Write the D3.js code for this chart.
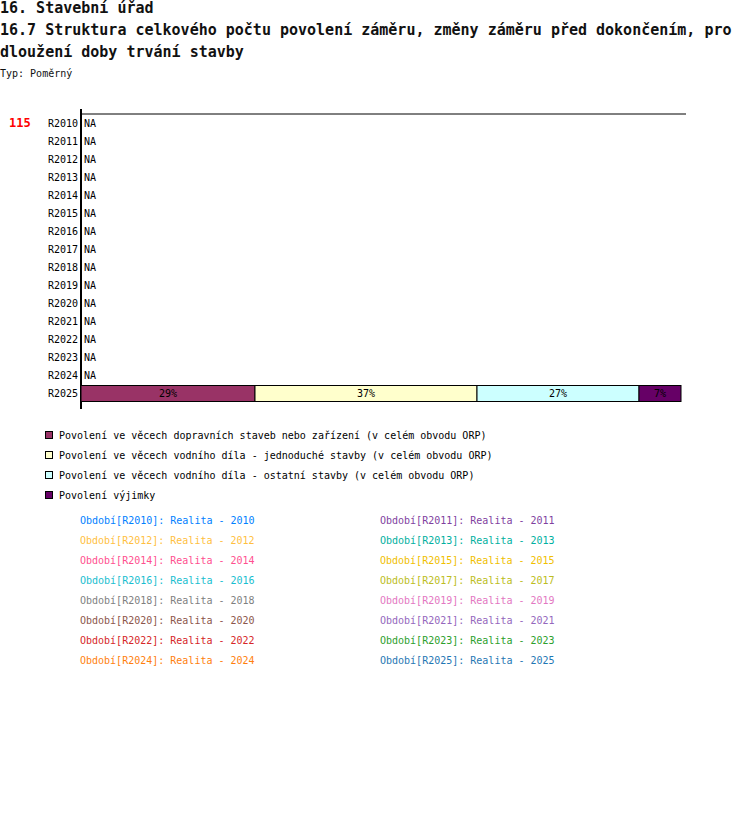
<!DOCTYPE html>
<html>
<head>
<meta charset="utf-8">
<script src="https://cdn.jsdelivr.net/npm/d3@7"></script>
<style>
  body { margin: 0; background: #fff; }
  svg { display: block; font-family: "DejaVu Sans Mono", "Liberation Mono", monospace; }
</style>
</head>
<body>
<svg id="chart"></svg>
<script>
// data
var titleLines = ["16. Stavební úřad",
  "16.7 Struktura celkového počtu povolení záměru, změny záměru před dokončením, pro",
  "dloužení doby trvání stavby"];
var typeLabel = "Typ: Poměrný";
var orpCode = "115";
var periods = ["R2010", "R2011", "R2012", "R2013", "R2014", "R2015", "R2016", "R2017",
  "R2018", "R2019", "R2020", "R2021", "R2022", "R2023", "R2024", "R2025"];
var categories = [
  "Povolení ve věcech dopravních staveb nebo zařízení (v celém obvodu ORP)",
  "Povolení ve věcech vodního díla - jednoduché stavby (v celém obvodu ORP)",
  "Povolení ve věcech vodního díla - ostatní stavby (v celém obvodu ORP)",
  "Povolení výjimky"];
var catColors = ["#993366", "#ffffcc", "#ccffff", "#660066"];
// percent shares per period, missing = NA
var shares = {
  R2025: [29, 37, 27, 7]
};
var periodColors = ["#0080ff", "#7f3f9f", "#ffbf3f", "#00b0a0", "#ff4f8f", "#f0c000",
  "#17becf", "#bcbd22", "#7f7f7f", "#e377c2", "#8c564b", "#9467bd",
  "#d62728", "#2ca02c", "#ff7f0e", "#1f77b4"];

var width = 750, height = 838;
var svg = d3.select("#chart").attr("width", width).attr("height", height);

// titles
svg.selectAll(".title")
  .data(titleLines)
  .join("text")
  .attr("x", 0)
  .attr("y", function (d, i) { return 13 + i * 22 })
  .style("font-size", "15px")
  .style("font-weight", "bold")
  .attr("fill", "#111")
  .text(function (d) { return d });
svg.append("text")
  .attr("x", 0).attr("y", 77)
  .style("font-size", "10px")
  .attr("fill", "#111")
  .text(typeLabel);

// scales
var x = d3.scaleLinear().domain([0, 100]).range([81, 681]);
var y = d3.scaleBand().domain(periods).range([114, 402]).paddingInner(0.05);
var mid = function (p) { return y(p) + y.bandwidth() / 2 };

// frame lines
svg.append("line")
  .attr("x1", 80).attr("x2", 686).attr("y1", 114).attr("y2", 114)
  .attr("stroke", "#000").attr("stroke-width", 1);
svg.append("line")
  .attr("x1", 81).attr("x2", 81).attr("y1", 109).attr("y2", 409)
  .attr("stroke", "#000").attr("stroke-width", 2);

svg.append("text")
  .attr("x", 9).attr("y", mid("R2010") + 4)
  .style("font-size", "12px").style("font-weight", "bold")
  .attr("fill", "#ff0000")
  .text(orpCode);

// row labels
svg.selectAll(".plabel")
  .data(periods)
  .join("text")
  .attr("x", 78)
  .attr("y", function (d) { return mid(d) + 4 })
  .attr("text-anchor", "end")
  .style("font-size", "10px")
  .attr("fill", "#000")
  .text(function (d) { return d });

// NA labels
svg.selectAll(".na")
  .data(periods.filter(function (p) { return !shares[p] }))
  .join("text")
  .attr("x", 84)
  .attr("y", function (d) { return mid(d) + 4 })
  .style("font-size", "10px")
  .attr("fill", "#000")
  .text("NA");

// stacked bars
var barH = 16;
periods.filter(function (p) { return shares[p] }).forEach(function (p) {
  var acc = 0;
  var segs = shares[p].map(function (v, i) {
    var s = { start: acc, value: v, i: i };
    acc += v;
    return s;
  });
  var g = svg.append("g");
  g.selectAll("rect")
    .data(segs)
    .join("rect")
    .attr("x", function (d) { return x(d.start) })
    .attr("y", Math.round(mid(p) - barH / 2) + 0.5)
    .attr("width", function (d) { return x(d.start + d.value) - x(d.start) })
    .attr("height", barH)
    .attr("fill", function (d) { return catColors[d.i] })
    .attr("stroke", "#000").attr("stroke-width", 1);
  g.selectAll("text")
    .data(segs)
    .join("text")
    .attr("x", function (d) { return x(d.start + d.value / 2) })
    .attr("y", mid(p) + 4)
    .attr("text-anchor", "middle")
    .style("font-size", "10px")
    .attr("fill", "#000")
    .text(function (d) { return d.value + "%" });
});

// category legend
var size = 7;
svg.selectAll(".lrect")
  .data(categories)
  .join("rect")
  .attr("x", 45.5)
  .attr("y", function (d, i) { return 431.5 + i * 20 })
  .attr("width", size).attr("height", size)
  .attr("fill", function (d, i) { return catColors[i] })
  .attr("stroke", "#000");
svg.selectAll(".ltext")
  .data(categories)
  .join("text")
  .attr("x", 59)
  .attr("y", function (d, i) { return 439 + i * 20 })
  .style("font-size", "10px")
  .attr("fill", "#000")
  .text(function (d) { return d });

// period legend
svg.selectAll(".ptext")
  .data(periods)
  .join("text")
  .attr("x", function (d, i) { return i % 2 === 0 ? 80 : 380 })
  .attr("y", function (d, i) { return 524 + Math.floor(i / 2) * 20 })
  .style("font-size", "10px")
  .attr("fill", function (d, i) { return periodColors[i] })
  .text(function (d) { return "Období[" + d + "]: Realita - " + d.slice(1) });
</script>
</body>
</html>
